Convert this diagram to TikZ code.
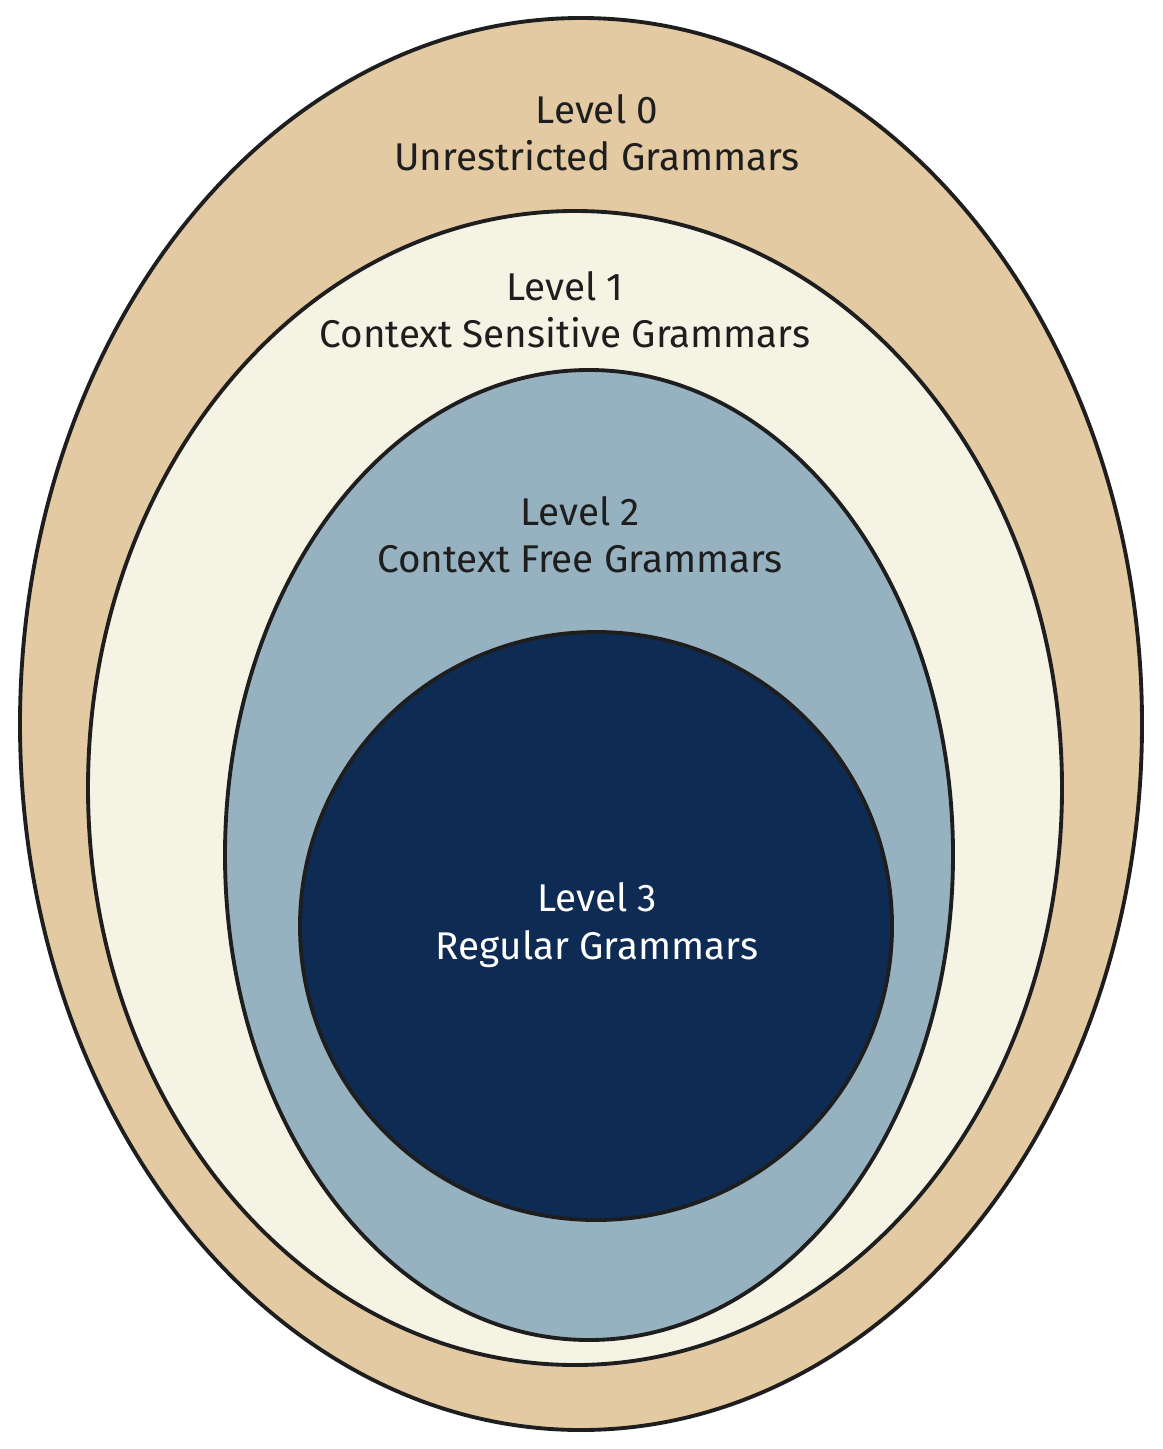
\documentclass[tikz,border=0pt]{standalone}
\usepackage{fontspec}
\setmainfont{Fira Sans}
\definecolor{levelzero}{HTML}{E3CAA3}
\definecolor{levelone}{HTML}{F5F3E4}
\definecolor{leveltwo}{HTML}{96B2C1}
\definecolor{levelthree}{HTML}{0E2B53}
\definecolor{inkline}{HTML}{1E1E1E}
\tikzset{
	ring/.style={draw=inkline, line width=2.2pt},
	label/.style={align=center, text=inkline, font=\fontsize{22}{27}\selectfont}
}
\begin{document}
\begin{tikzpicture}[x=0.02cm, y=-0.02cm]
	\useasboundingbox (0,0) rectangle (1162,1449);

	\filldraw[ring, fill=levelzero] (581,724) ellipse (561 and 706);
	\filldraw[ring, fill=levelone] (575,788) ellipse (487 and 577);
	\filldraw[ring, fill=leveltwo] (589,855) ellipse (364 and 485);
	\filldraw[ring, fill=levelthree] (596,926) ellipse (296 and 294);

	\node[label] (zero) at (597,133) {Level 0\\Unrestricted Grammars};
	\node[label] (one) at (565,310) {Level 1\\Context Sensitive Grammars};
	\node[label] (two) at (580,535) {Level 2\\Context Free Grammars};
	\node[label, text=white] (three) at (597,925) {Level 3\\Regular Grammars};
\end{tikzpicture}
\end{document}
